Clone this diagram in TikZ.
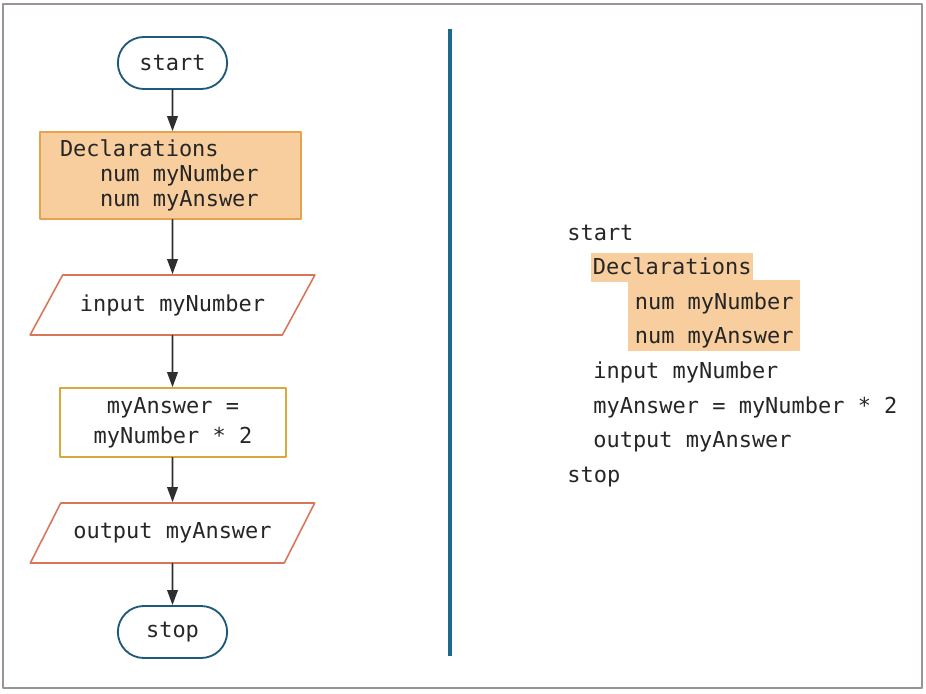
\documentclass[tikz,border=0pt]{standalone}
\usepackage{fontspec}
\newfontfamily\codefont[WordSpace={1,0,0}]{DejaVu Sans Mono}
\newcommand\monospaces{\spaceskip=0pt\relax}
\usetikzlibrary{shapes.geometric}
\usetikzlibrary{shapes.misc}
\usetikzlibrary{arrows.meta}
\definecolor{pillblue}{HTML}{1E5A78}
\definecolor{rulerblue}{HTML}{1B6A8C}
\definecolor{ioorange}{HTML}{D8765A}
\definecolor{declfill}{HTML}{F8CE9E}
\definecolor{declline}{HTML}{E6A24C}
\definecolor{procline}{HTML}{D9A83A}
\definecolor{framegray}{HTML}{9C9494}
\definecolor{arrowgray}{HTML}{2E2E2E}
\begin{document}
\begin{tikzpicture}[line cap=round,line join=round,>={Triangle[length=0.3cm,width=0.21cm]},x=0.02cm,y=-0.02cm,
  code/.style={font=\codefont\fontsize{12.5}{14.2}\selectfont, text=black!85},
  term/.style={code, rounded rectangle, draw=pillblue, line width=1.05pt, minimum width=2.42cm, minimum height=1.04cm},
  decl/.style={code, rectangle, draw=declline, fill=declfill, line width=0.9pt, minimum height=1.74cm, text width=4.42cm, inner xsep=0.4cm, align=left},
  io/.style={code, trapezium, trapezium left angle=48.5, trapezium right angle=131.5, trapezium stretches=true, draw=ioorange, line width=0.9pt, minimum width=5.7cm, minimum height=1.2cm},
  proc/.style={code, font=\codefont\fontsize{12.5}{17}\selectfont, rectangle, draw=procline, line width=0.9pt, minimum width=4.52cm, minimum height=1.38cm, align=center},
  flow/.style={->, draw=arrowgray, line width=1.05pt},
  pseudo/.style={code, anchor=base west, inner sep=0pt},
  hl/.style={fill=declfill, text height=0.58cm, text depth=0.14cm, inner ysep=0pt}]
    \useasboundingbox (0,0) rectangle (926,693);
    \draw[framegray, line width=1.2pt] (3,4) rectangle (922,688);

    % flowchart
    \node[term] (start) at (172.5,63) {start};
    \node[decl] (decls) at (170.5,175.5) {\monospaces Declarations\\\hspace*{0.8cm}num myNumber\\\hspace*{0.8cm}num myAnswer};
    \node[io] (input) at (172.5,305) {input myNumber};
    \node[proc] (calc) at (173,422.5) {myAnswer =\\myNumber * 2};
    \node[io] (output) at (172.5,533) {output myAnswer};
    \node[term] (stop) at (172.5,632) {stop};

    \draw[flow] (start) -- (start |- decls.north);
    \draw[flow] (start |- decls.south) -- (input);
    \draw[flow] (input) -- (input |- calc.north);
    \draw[flow] (input |- calc.south) -- (output);
    \draw[flow] (output) -- (stop);

    \draw[rulerblue, line width=2.3pt, line cap=butt] (450,29) -- (450,656);

    % pseudocode
    \node[pseudo] (pstart) at (567,240) {start};
    \node[pseudo, hl, text height=0.43cm, inner xsep=0.03cm] (pdecl) at (591,274.6) {Declarations};
    \node[pseudo, hl, inner xsep=0.13cm] (pnumA) at (628,309.2) {num myNumber};
    \node[pseudo, hl, inner xsep=0.13cm] (pnumB) at (628,343.8) {num myAnswer};
    \node[pseudo] (pinput) at (593,378.4) {input myNumber};
    \node[pseudo] (pcalc) at (593,413) {myAnswer = myNumber * 2};
    \node[pseudo] (poutput) at (593,447.6) {output myAnswer};
    \node[pseudo] (pstop) at (567,482.2) {stop};
\end{tikzpicture}
\end{document}
